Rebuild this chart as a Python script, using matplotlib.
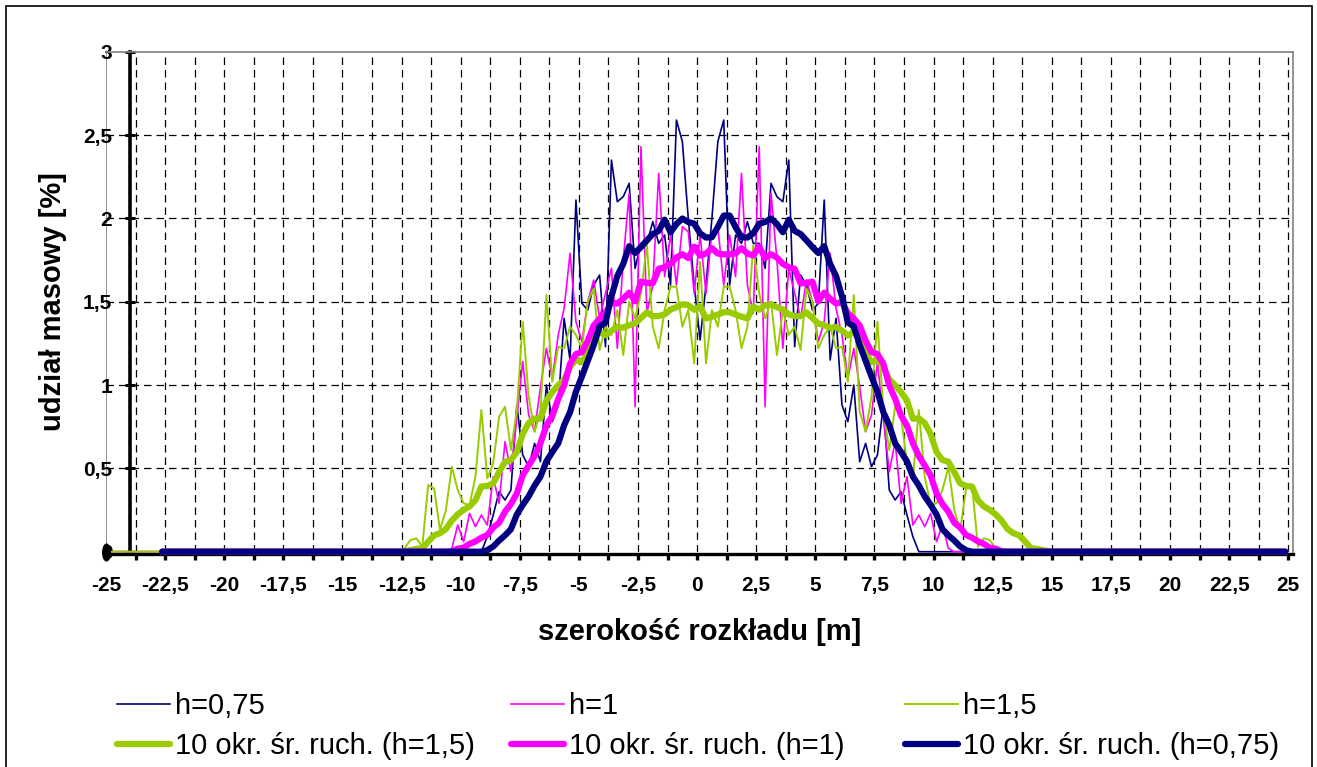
import numpy as np
import matplotlib.pyplot as plt
from matplotlib.path import Path
from matplotlib.transforms import Affine2D

plt.rcParams['font.family'] = ['Liberation Sans', 'DejaVu Sans']

# x values: bin centres every 0.25 m, -24.875 ... 24.875
x_first = -24.875
x_step = 0.25
n_points = 200
first_idx = 49          # index of x = -12.625, start of the non-zero part

# mass fraction [%], x = -12.625 ... 12.875
h075 = [0, 0, 0, 0, 0, 0, 0, 0, 0, 0, 0, 0, 0, 0, 0,
        0.09, 0.22, 0.36, 0.31, 0.37, 0.88, 0.58, 0.51, 0.65, 0.54,
        1.00, 0.78, 0.88, 1.40, 1.15, 2.11, 1.49, 1.45, 1.60, 1.66,
        1.23, 2.35, 2.10, 2.13, 2.21, 1.70, 1.85, 1.85, 1.98, 1.85,
        1.90, 1.60, 2.59, 2.46, 2.00, 1.60, 1.27,
        1.60, 2.00, 2.46, 2.59, 1.60, 1.90, 1.85, 1.98, 1.85, 1.85,
        1.70, 2.21, 2.13, 2.10, 2.35, 1.23, 1.66, 1.60, 1.45, 1.49,
        2.11, 1.15, 1.40, 0.88, 0.78, 1.00, 0.54, 0.65, 0.51, 0.58,
        0.88, 0.37, 0.31, 0.36, 0.22, 0.09,
        0, 0, 0, 0, 0, 0, 0, 0, 0, 0, 0, 0, 0, 0, 0]

h1 = [0, 0, 0, 0, 0, 0, 0, 0, 0,
      0.02, 0.16, 0.06, 0.23, 0.15, 0.22, 0.16, 0.45, 0.29, 0.66,
      0.48, 0.80, 1.14, 0.82, 0.72, 0.99, 1.22, 1.04, 1.30, 1.46,
      1.79, 1.38, 1.26, 1.50, 1.63, 1.40, 1.55, 1.70, 1.22, 1.75,
      2.15, 0.87, 2.43, 1.43, 1.60, 2.27, 1.65, 1.90, 1.60, 1.95,
      1.92, 1.55, 1.90,
      1.55, 1.92, 1.95, 1.60, 1.90, 1.65, 2.27, 1.60, 1.43, 2.43,
      0.87, 2.15, 1.75, 1.22, 1.70, 1.55, 1.40, 1.63, 1.50, 1.26,
      1.38, 1.79, 1.46, 1.30, 1.04, 1.22, 0.99, 0.72, 0.82, 1.14,
      0.80, 0.48, 0.66, 0.29, 0.45, 0.16, 0.22, 0.15, 0.23, 0.06,
      0.16, 0.02,
      0, 0, 0, 0, 0, 0, 0, 0, 0]

h15 = [0, 0.02, 0.07, 0.08, 0.03, 0.40, 0.38, 0.13, 0.25, 0.51,
       0.37, 0.29, 0.28, 0.45, 0.85, 0.44, 0.53, 0.81, 0.87, 0.61,
       0.85, 1.38, 0.93, 0.72, 0.84, 1.54, 1.02, 1.23, 1.22, 1.35,
       1.30, 1.22, 1.50, 1.58, 1.21, 1.35, 1.30, 1.45, 1.18, 1.50,
       1.40, 1.55, 1.84, 1.35, 1.22, 1.45, 1.59, 1.59, 1.35, 1.45,
       1.13, 1.74,
       1.13, 1.45, 1.35, 1.59, 1.59, 1.45, 1.22, 1.35, 1.84, 1.55,
       1.40, 1.50, 1.18, 1.45, 1.30, 1.35, 1.21, 1.58, 1.50, 1.22,
       1.30, 1.35, 1.22, 1.23, 1.02, 1.54, 0.84, 0.72, 0.93, 1.38,
       0.85, 0.61, 0.87, 0.81, 0.53, 0.44, 0.85, 0.45, 0.28, 0.29,
       0.37, 0.51, 0.25, 0.13, 0.38, 0.40, 0.03, 0.08, 0.07, 0.02, 0]

ma_period = 10

navy = '#000080'
magenta = '#FF00FF'
green = '#99CC00'


def full_series(core):
    y = np.zeros(n_points)
    y[first_idx:first_idx + len(core)] = core
    return y


def moving_avg(y, n):
    return np.convolve(y, np.ones(n) / n, mode='valid')


x = x_first + x_step * np.arange(n_points)
y075 = full_series(h075)
y1 = full_series(h1)
y15 = full_series(h15)
x_ma = x[ma_period - 1:]

fig = plt.figure(figsize=(13.17, 7.67), dpi=100)
ax = fig.add_axes([106 / 1317, 1 - 551.7 / 767, (1293 - 106) / 1317, 500 / 767])

# y axis crosses at x = -24, x axis line sits just under y = 0
# (set before the ticks, it resets them)
ax.spines['left'].set_position(('data', -24))
ax.spines['bottom'].set_position(('outward', 1.5))

# thin series
l1, = ax.plot(x, y075, color=navy, lw=1.2, clip_on=False, zorder=3)
l2, = ax.plot(x, y1, color=magenta, lw=1.2, clip_on=False, zorder=3)
l3, = ax.plot(x, y15, color=green, lw=1.4, clip_on=False, zorder=3)
# moving averages
m3, = ax.plot(x_ma, moving_avg(y15, ma_period), color=green, lw=4.5,
              clip_on=False, zorder=4, solid_capstyle='round')
m2, = ax.plot(x_ma, moving_avg(y1, ma_period), color=magenta, lw=4.5,
              clip_on=False, zorder=4, solid_capstyle='round')
m1, = ax.plot(x_ma, moving_avg(y075, ma_period), color=navy, lw=4.5,
              clip_on=False, zorder=4, solid_capstyle='round')

# small black ellipse at the origin corner
ell = Path.unit_circle().transformed(Affine2D().scale(0.45, 1.0))
ax.plot([-25], [0], marker=ell, markersize=12, color='black',
        clip_on=False, zorder=6)

ax.set_xlim(-25, 25.2)
ax.set_ylim(0, 3)

major_x = np.arange(-25, 25.01, 2.5)
minor_x = np.arange(-23.75, 25, 2.5)
ax.set_xticks(major_x)
ax.set_xticks(minor_x, minor=True)
ax.set_xticklabels([('%g' % v).replace('.', ',') for v in major_x],
                   fontsize=15, fontweight='bold')
yt = np.arange(0, 3.01, 0.5)
ax.set_yticks(yt)
ax.set_yticklabels([('%g' % v).replace('.', ',') for v in yt],
                   fontsize=15, fontweight='bold')

ax.tick_params(axis='x', which='both', direction='out', length=4, width=2.4,
               color='black', pad=12)
ax.tick_params(axis='y', direction='inout', length=7, width=2.2,
               color='black', pad=9)

for v in np.arange(-23.75, 25.01, 1.25):
    ax.axvline(v, color='black', lw=0.9, ls=(0, (6, 4)), zorder=1)
for v in [0.5, 1, 1.5, 2, 2.5]:
    ax.axhline(v, color='black', lw=0.9, ls=(0, (6, 4)), zorder=1)

ax.spines['left'].set_color('black')
ax.spines['left'].set_linewidth(2.6)
ax.spines['left'].set_zorder(2)
ax.spines['bottom'].set_color('black')
ax.spines['bottom'].set_linewidth(2.4)
ax.spines['top'].set_color('#808080')
ax.spines['top'].set_linewidth(1.2)
ax.spines['right'].set_color('#808080')
ax.spines['right'].set_linewidth(1.2)
ax.axvline(-25, color='#808080', lw=1.2, zorder=1)

fig.text(700 / 1317, 1 - 632 / 767, 'szerokość rozkładu [m]', fontsize=21,
         fontweight='bold', ha='center', va='center')
fig.text(53 / 1317, 1 - 302 / 767, 'udział masowy [%]', fontsize=21,
         fontweight='bold', ha='center', va='center', rotation=90)

# legend: three equal-width columns, two rows
legend_cols = [
    ([l1, m3], ['h=0,75', '10 okr. śr. ruch. (h=1,5)'], 117),
    ([l2, m2], ['h=1', '10 okr. śr. ruch. (h=1)'], 511),
    ([l3, m1], ['h=1,5', '10 okr. śr. ruch. (h=0,75)'], 905),
]
for hs, labs, xpos in legend_cols:
    fig.legend(hs, labs, loc='upper left',
               bbox_to_anchor=(xpos / 1317, 1 - 692 / 767), frameon=False,
               fontsize=21, handlelength=1.8, handletextpad=0.2,
               labelspacing=0.42, borderpad=0, borderaxespad=0)

# outer chart border
fig.patches.append(plt.Rectangle((6 / 1317, -5 / 767), 1306 / 1317, 766 / 767,
                                 transform=fig.transFigure, fill=False,
                                 edgecolor='black', lw=1.2))

fig.savefig('out.png', dpi=100)
